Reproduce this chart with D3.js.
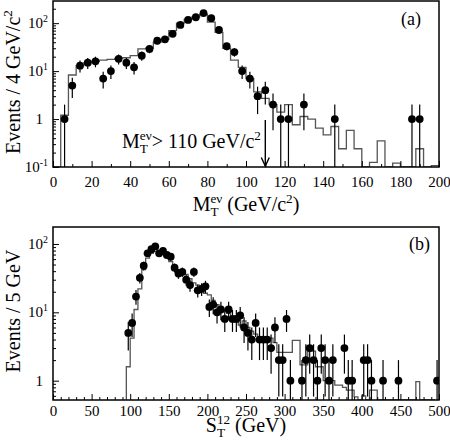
<!DOCTYPE html>
<html>
<head>
<meta charset="utf-8">
<script src="https://cdn.jsdelivr.net/npm/d3@7"></script>
<style>
  body { margin: 0; background: #fff; }
  svg text { font-family: "Liberation Serif", "Times New Roman", serif; fill: #000; }
</style>
</head>
<body>
<svg id="chart" width="450" height="440"></svg>
<script>
// ---- panel (a): transverse mass, 4 GeV bins ----
const mtBinLow = 0;
const mtBinWidth = 4;
const mtHist = [0, 1.2, 8.3, 13, 15, 16, 17, 17.5, 18.5, 19, 21, 29, 30, 40, 46, 70, 100, 120, 135, 155,
  105, 64, 30, 17, 12, 7, 3.7, 2.7, 2.0, 1.4, 2.0, 0.76, 1.13, 1.0, 0.65, 0.47, 0.70, 0.24, 0.58, 0.24,
  0, 0.125, 0.35, 0, 0.12, 0, 0, 0.24, 0, 0.107];
const mtPointX = [6, 10, 14, 18, 22, 26, 30, 34, 38, 42, 46, 50, 54, 58, 62, 66, 70, 74, 78, 82,
  86, 90, 94, 98, 102, 106, 110, 114, 118, 122, 130, 146, 186, 190];
const mtPointN = [1, 5, 13, 15, 16, 7, 10, 18, 15, 12, 21, 29, 43, 46, 60, 92, 117, 133, 162, 127,
  72, 33, 25, 10, 7, 3, 4, 2, 1, 1, 2, 1, 1, 1];
const mtMajorTicks = [0, 20, 40, 60, 80, 100, 120, 140, 160, 180, 200];
const mtMinorTicks = [10, 30, 50, 70, 90, 110, 130, 150, 170, 190];
const mtCut = 110;

// ---- panel (b): scalar sum S_T, 5 GeV bins ----
const stBinLow = 95;
const stBinWidth = 5;
const stHist = [1.6, 4.2, 11, 22, 42, 62, 73, 77, 79, 73, 65, 55, 47, 39, 36, 36, 31, 27, 25, 21,
  19, 18, 15, 13, 11.5, 11, 9.7, 8.2, 7.3, 6.5, 7.5, 6, 5.3, 4.8, 4.4, 4.2, 4.0, 4.2, 3.6, 2.6,
  2.6, 2.6, 2.6, 3.9, 3.9, 1.7, 1.7, 2.7, 2.7, 1.6, 1.6, 1.0, 1.0, 1.0, 0.86, 0.86, 0.8, 0.73, 0.73, 0.58,
  0, 0.6, 0, 0.73, 0.73, 0, 0, 0, 0, 0, 0, 0, 0, 0, 0, 0.97, 0, 0, 0, 0];
const stPointX = [97.5, 102.5, 107.5, 112.5, 117.5, 122.5, 127.5, 132.5, 137.5, 142.5, 147.5, 152.5,
  157.5, 162.5, 167.5, 172.5, 177.5, 182.5, 187.5, 192.5, 197.5, 202.5, 207.5, 212.5, 217.5, 222.5,
  227.5, 232.5, 237.5, 242.5, 247.5, 252.5, 257.5, 262.5, 267.5, 272.5, 277.5, 282.5, 287.5, 292.5,
  297.5, 302.5, 307.5, 322.5, 327.5, 332.5, 337.5, 342.5, 347.5, 352.5, 357.5, 362.5, 377.5, 382.5,
  387.5, 402.5, 407.5, 412.5, 427.5, 447.5, 497.5];
const stPointN = [5, 7, 17, 32, 48, 73, 84, 92, 73, 79, 69, 65,
  45, 37, 39, 30, 25, 39, 21, 22, 24, 12, 13, 10, 11, 8,
  11, 8, 8, 9, 6, 5, 4, 7, 4, 4, 4, 3, 6, 2,
  2, 8, 1, 1, 2, 3, 2, 1, 3, 2, 1, 2, 3, 1,
  1, 2, 2, 1, 1, 1, 1];
const stMajorTicks = [0, 50, 100, 150, 200, 250, 300, 350, 400, 450, 500];
const stMinorTicks = [10, 20, 30, 40, 60, 70, 80, 90, 110, 120, 130, 140, 160, 170, 180, 190,
  210, 220, 230, 240, 260, 270, 280, 290, 310, 320, 330, 340, 360, 370, 380, 390,
  410, 420, 430, 440, 460, 470, 480, 490];

const svg = d3.select('#chart');
const HIST_COLOR = '#555';
const SERIF = '"Liberation Serif", "Times New Roman", serif';

/**
 * Appends tspans to a text element. Parts are {t} for plain text,
 * {sup}, {sub} or both (stacked, like M_T^ev).
 */
function rich (text, parts, size) {
  const small = size * 0.66;
  let cur = 0;
  let pendingDx = 0;
  parts.forEach((p) => {
    if (p.t != null) {
      text.append('tspan')
        .attr('dy', 0 - cur)
        .attr('dx', pendingDx)
        .style('font-size', size + 'px')
        .text(p.t);
      cur = 0;
      pendingDx = 0;
      return;
    }
    let supW = 0;
    let subW = 0;
    if (p.sup) {
      const up = -size * 0.4;
      const s = text.append('tspan')
        .attr('dy', up - cur)
        .attr('dx', pendingDx)
        .style('font-size', small + 'px')
        .text(p.sup);
      cur = up;
      pendingDx = 0;
      supW = s.node().getComputedTextLength();
    }
    if (p.sub) {
      const down = size * 0.26;
      const s = text.append('tspan')
        .attr('dy', down - cur)
        .attr('dx', p.sup ? -supW : pendingDx)
        .style('font-size', small + 'px')
        .text(p.sub);
      cur = down;
      pendingDx = 0;
      subW = s.node().getComputedTextLength();
    }
    if (p.sup && p.sub && supW > subW) pendingDx = supW - subW;
  });
  return text;
}

function stepPath (x, y, lo0, width, vals) {
  const floor = y.domain()[0];
  const pts = [[x(lo0), y(floor)]];
  vals.forEach((v, i) => {
    const yy = y(Math.max(v, floor));
    pts.push([x(lo0 + i * width), yy], [x(lo0 + (i + 1) * width), yy]);
  });
  pts.push([x(lo0 + vals.length * width), y(floor)]);
  return d3.line()(pts);
}

// axis with inward ticks and no labels
function bareTicks (g, axis) {
  g.call(axis);
  g.select('.domain').remove();
  g.selectAll('text').remove();
}

function drawPanel (cfg) {
  const { x, y, id } = cfg;
  const [x0, x1] = x.range();
  const [y0, y1] = y.range(); // y0 = bottom
  const g = svg.append('g');

  g.append('clipPath').attr('id', id)
    .append('rect')
      .attr('x', x0).attr('y', y1)
      .attr('width', x1 - x0).attr('height', y0 - y1);

  const plot = g.append('g').attr('clip-path', `url(#${id})`);

  // MC histogram
  plot.append('path')
    .attr('d', stepPath(x, y, cfg.binLow, cfg.binWidth, cfg.hist))
    .attr('fill', 'none')
    .attr('stroke', HIST_COLOR)
    .attr('stroke-width', 1.3);

  // data with sqrt(N) error bars
  const floor = y.domain()[0];
  const pts = cfg.px.map((v, i) => ({ x: v, n: cfg.pn[i] }));
  plot.selectAll('line.err')
    .data(pts)
    .enter().append('line')
      .attr('class', 'err')
      .attr('x1', (d) => x(d.x))
      .attr('x2', (d) => x(d.x))
      .attr('y1', (d) => y(Math.max(d.n - Math.sqrt(d.n), floor)))
      .attr('y2', (d) => y(d.n + Math.sqrt(d.n)))
      .attr('stroke', '#000')
      .attr('stroke-width', 1.2);
  plot.selectAll('circle')
    .data(pts)
    .enter().append('circle')
      .attr('cx', (d) => x(d.x))
      .attr('cy', (d) => y(d.n))
      .attr('r', 3.9)
      .attr('fill', '#000');

  // x axis: inward ticks
  bareTicks(g.append('g').attr('transform', `translate(0,${y0})`),
    d3.axisBottom(x).tickValues(cfg.minor).tickSize(-3));
  const xa = g.append('g')
    .attr('transform', `translate(0,${y0})`)
    .call(d3.axisBottom(x).tickValues(cfg.major).tickSize(-6)
      .tickPadding(cfg.labelPad).tickFormat(d3.format('d')));
  xa.select('.domain').remove();
  xa.attr('font-family', SERIF).attr('font-size', 15);
  xa.selectAll('text')
    .style('font-family', SERIF)
    .style('font-size', '15px');

  // y axis: log ticks, labels as powers of ten
  const [lo, hi] = y.domain();
  const major = [];
  const minor = [];
  for (let e = Math.floor(Math.log10(lo)); e <= Math.ceil(Math.log10(hi)); e++) {
    for (let m = 1; m < 10; m++) {
      const v = m * Math.pow(10, e);
      if (v < lo * 0.999 || v > hi) continue;
      (m === 1 ? major : minor).push(v);
    }
  }
  bareTicks(g.append('g').attr('transform', `translate(${x0},0)`),
    d3.axisLeft(y).tickValues(minor).tickSize(-3));
  bareTicks(g.append('g').attr('transform', `translate(${x0},0)`),
    d3.axisLeft(y).tickValues(major).tickSize(-6));
  major.forEach((v) => {
    const e = Math.round(Math.log10(v));
    const t = g.append('text')
      .attr('x', e === 0 ? 43 : 48)
      .attr('y', y(v) + 5)
      .attr('text-anchor', 'end');
    if (e === 0) rich(t, [{ t: '1' }], 15);
    else rich(t, [{ t: '10' }, { sup: String(e) }], 15);
  });

  // frame
  g.append('rect')
    .attr('x', x0).attr('y', y1)
    .attr('width', x1 - x0).attr('height', y0 - y1)
    .attr('fill', 'none')
    .attr('stroke', '#000')
    .attr('stroke-width', 1.5);

  // titles
  rich(g.append('text')
    .attr('transform', `translate(20,${cfg.yTitleMid}) rotate(-90)`)
    .attr('text-anchor', 'middle'), cfg.yTitle, 20);
  rich(g.append('text')
    .attr('x', cfg.xTitleMid)
    .attr('y', cfg.xTitleBase)
    .attr('text-anchor', 'middle'), cfg.xTitle, 20);
  g.append('text')
    .attr('x', cfg.tagX)
    .attr('y', cfg.tagY)
    .style('font-size', '18px')
    .text(cfg.tag);
  return g;
}

const xA = d3.scaleLinear().domain([0, 200]).range([53, 439]);
const yA = d3.scaleLog().domain([0.1, 290]).range([167, 1]);
const xB = d3.scaleLinear().domain([0, 500]).range([53, 439]);
const yB = d3.scaleLog().domain([0.522, 177]).range([400, 227]);

const gA = drawPanel({
  id: 'clipA', x: xA, y: yA,
  binLow: mtBinLow, binWidth: mtBinWidth, hist: mtHist,
  px: mtPointX, pn: mtPointN,
  major: mtMajorTicks, minor: mtMinorTicks, labelPad: 9,
  yTitle: [{ t: 'Events / 4 GeV/c' }, { sup: '2' }], yTitleMid: 82,
  xTitle: [{ t: 'M' }, { sup: 'e\u03bd', sub: 'T' }, { t: '  (GeV/c' }, { sup: '2' }, { t: ')' }],
  xTitleMid: 246, xTitleBase: 211,
  tag: '(a)', tagX: 401, tagY: 25
});

// cut annotation with arrow
rich(gA.append('text').attr('x', 122).attr('y', 148),
  [{ t: 'M' }, { sup: 'e\u03bd', sub: 'T' }, { t: '> 110 GeV/c' }, { sup: '2' }], 20);
const ax = xA(mtCut);
gA.append('line')
  .attr('x1', ax).attr('x2', ax)
  .attr('y1', 120).attr('y2', 166)
  .attr('stroke', '#000').attr('stroke-width', 1.4);
gA.append('path')
  .attr('d', `M${ax - 4},157.5L${ax},166L${ax + 4},157.5`)
  .attr('fill', 'none')
  .attr('stroke', '#000').attr('stroke-width', 1.4);

drawPanel({
  id: 'clipB', x: xB, y: yB,
  binLow: stBinLow, binWidth: stBinWidth, hist: stHist,
  px: stPointX, pn: stPointN,
  major: stMajorTicks, minor: stMinorTicks, labelPad: 5,
  yTitle: [{ t: 'Events / 5 GeV' }], yTitleMid: 311,
  xTitle: [{ t: 'S' }, { sup: '12', sub: 'T' }, { t: ' (GeV)' }],
  xTitleMid: 246, xTitleBase: 432,
  tag: '(b)', tagX: 409, tagY: 250
});
</script>
</body>
</html>
